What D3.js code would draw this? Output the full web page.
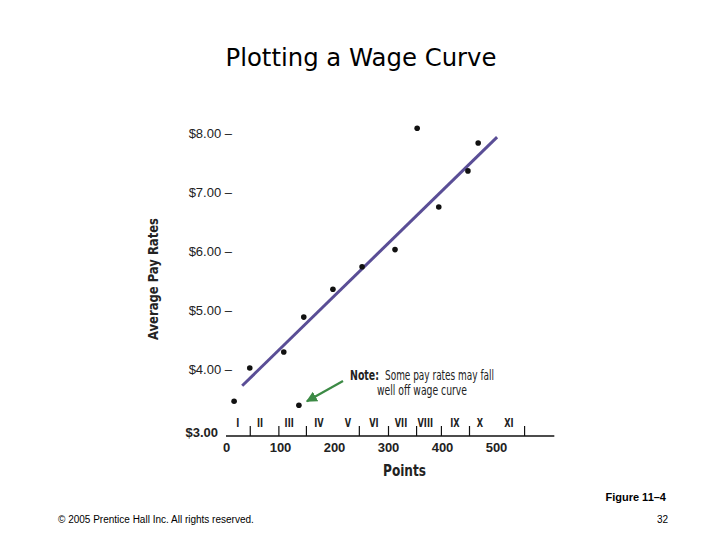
<!DOCTYPE html>
<html><head><meta charset="utf-8">
<script src="https://cdn.jsdelivr.net/npm/d3@7"></script>
<style>
html,body{margin:0;padding:0;background:#fff;}
svg{display:block;}
</style></head>
<body>
<svg id="chart" width="720" height="540"></svg>
<script>
// ---- data ----
const points   = [15, 44, 107, 144, 198, 252, 313, 354, 394, 448, 467];
const payRates = [3.47, 4.03, 4.30, 4.89, 5.36, 5.74, 6.03, 8.08, 6.75, 7.36, 7.83];
const outlierPoint = [135];
const outlierRate  = [3.40];
const curvePoints = [30, 502];
const curveRates  = [3.73, 7.93];
const yTicks = [4, 5, 6, 7, 8];
const yTickLabels = ["$4.00", "$5.00", "$6.00", "$7.00", "$8.00"];
const xTicks = [0, 100, 200, 300, 400, 500];
const gradeBounds = [44, 97, 148, 246, 300, 352, 398, 450, 552];
const gradeLabels = ["I","II","III","IV","V","VI","VII","VIII","IX","X","XI"];
const gradeCenters = [22, 63, 117, 172, 226, 274, 324, 369, 424, 470, 524];

const svg = d3.select("#chart");
const x = d3.scaleLinear().domain([0, 500]).range([226, 496]);
const y = d3.scaleLinear().domain([3, 8]).range([429, 133]);
const base = y(3) + 7;
const narrow = "'Liberation Sans Narrow','DejaVu Sans Condensed','Liberation Sans',sans-serif";

// title
svg.append("text").attr("x", 361).attr("y", 66).attr("text-anchor", "middle")
  .attr("font-family", "'DejaVu Sans',Verdana,sans-serif").attr("font-size", 24)
  .attr("fill", "#000").attr("textLength", 271).attr("lengthAdjust", "spacingAndGlyphs")
  .text("Plotting a Wage Curve");

// y axis labels
const yAxis = d3.axisLeft(y).tickValues(yTicks).tickSize(0)
  .tickFormat((d, i) => yTickLabels[i] + " \u2013");
const gy = svg.append("g").attr("transform", "translate(235,0)").call(yAxis);
gy.select(".domain").remove();
gy.selectAll("text").attr("font-family", "'Liberation Sans',Arial,sans-serif")
  .attr("font-size", 13).attr("fill", "#222").attr("dx", 0);
svg.append("text").attr("x", 218).attr("y", y(3) + 8).attr("text-anchor", "end")
  .attr("font-family", "'Liberation Sans',Arial,sans-serif").attr("font-size", 13)
  .attr("font-weight", "bold").attr("fill", "#222").text("$3.00");

// x axis: grade boundary ticks
const axisEnd = 608;
const gx = svg.append("g").attr("transform", `translate(0,${base})`)
  .call(d3.axisBottom(x).tickValues(gradeBounds).tickSize(-10).tickSizeOuter(0).tickFormat(""));
gx.select(".domain").attr("d", `M${x(0)},0H${x(axisEnd)}`).attr("stroke", "#111").attr("stroke-width", 1.3);
gx.selectAll(".tick line").attr("stroke", "#111").attr("stroke-width", 1.2);

// x number labels
const gxl = svg.append("g").attr("transform", `translate(0,${base})`)
  .call(d3.axisBottom(x).tickValues(xTicks).tickSize(0).tickPadding(7));
gxl.select(".domain").remove();
gxl.selectAll("text").attr("font-family", "'Liberation Sans',Arial,sans-serif")
  .attr("font-size", 13).attr("font-weight", "bold").attr("fill", "#222");

// grade labels (condensed)
svg.append("g").selectAll("text").data(gradeLabels).join("text")
  .attr("transform", (d, i) => `translate(${x(gradeCenters[i])},${base - 9}) scale(0.7,1)`)
  .attr("text-anchor", "middle").attr("font-family", narrow)
  .attr("font-size", 13).attr("font-weight", "bold").attr("fill", "#222").text(d => d);

// axis titles
svg.append("text").attr("x", 383).attr("y", 476)
  .attr("font-family", narrow).attr("font-size", 15).attr("font-weight", "bold")
  .attr("fill", "#222").attr("textLength", 43).attr("lengthAdjust", "spacingAndGlyphs").text("Points");
svg.append("text").attr("transform", "translate(158,279) rotate(-90)").attr("text-anchor", "middle")
  .attr("font-family", narrow).attr("font-size", 14).attr("font-weight", "bold")
  .attr("fill", "#222").attr("textLength", 122).attr("lengthAdjust", "spacingAndGlyphs")
  .text("Average Pay Rates");

// wage curve
const curve = curvePoints.map((p, i) => [p, curveRates[i]]);
svg.append("path").datum(curve)
  .attr("d", d3.line().x(d => x(d[0])).y(d => y(d[1])))
  .attr("stroke", "#5a4e96").attr("stroke-width", 3).attr("fill", "none");

// dots
const dots = points.map((p, i) => [p, payRates[i]])
  .concat(outlierPoint.map((p, i) => [p, outlierRate[i]]));
svg.append("g").selectAll("circle").data(dots).join("circle")
  .attr("cx", d => x(d[0])).attr("cy", d => y(d[1])).attr("r", 2.8).attr("fill", "#111");

// note arrow
const defs = svg.append("defs");
defs.append("marker").attr("id", "ah").attr("viewBox", "0 0 10 10").attr("refX", 9).attr("refY", 5)
  .attr("markerWidth", 5).attr("markerHeight", 5).attr("orient", "auto")
  .append("path").attr("d", "M0,0L10,5L0,10Z").attr("fill", "#3c8a45");
svg.append("line").attr("x1", 343).attr("y1", 381).attr("x2", x(outlierPoint[0]) + 8).attr("y2", y(outlierRate[0]) - 4)
  .attr("stroke", "#3c8a45").attr("stroke-width", 2.2).attr("marker-end", "url(#ah)");

// note text
svg.append("text").attr("x", 350).attr("y", 380)
  .attr("font-family", narrow).attr("font-size", 14).attr("font-weight", "bold").attr("fill", "#222")
  .attr("textLength", 29).attr("lengthAdjust", "spacingAndGlyphs").text("Note:");
svg.append("text").attr("x", 385).attr("y", 380)
  .attr("font-family", narrow).attr("font-size", 14).attr("fill", "#222")
  .attr("textLength", 109).attr("lengthAdjust", "spacingAndGlyphs").text("Some pay rates may fall");
svg.append("text").attr("x", 377).attr("y", 395).attr("font-family", narrow).attr("font-size", 14)
  .attr("fill", "#222").attr("textLength", 90).attr("lengthAdjust", "spacingAndGlyphs")
  .text("well off wage curve");

// footer
svg.append("text").attr("x", 666).attr("y", 501).attr("text-anchor", "end")
  .attr("font-family", "'Liberation Sans',Arial,sans-serif").attr("font-size", 11)
  .attr("font-weight", "bold").attr("fill", "#000").text("Figure 11\u20134");
svg.append("text").attr("x", 58).attr("y", 523)
  .attr("font-family", "'Liberation Sans',Arial,sans-serif").attr("font-size", 10)
  .attr("fill", "#000").text("\u00A9 2005 Prentice Hall Inc. All rights reserved.");
svg.append("text").attr("x", 668).attr("y", 523).attr("text-anchor", "end")
  .attr("font-family", "'Liberation Sans',Arial,sans-serif").attr("font-size", 10)
  .attr("fill", "#000").text("32");
</script>
</body></html>
